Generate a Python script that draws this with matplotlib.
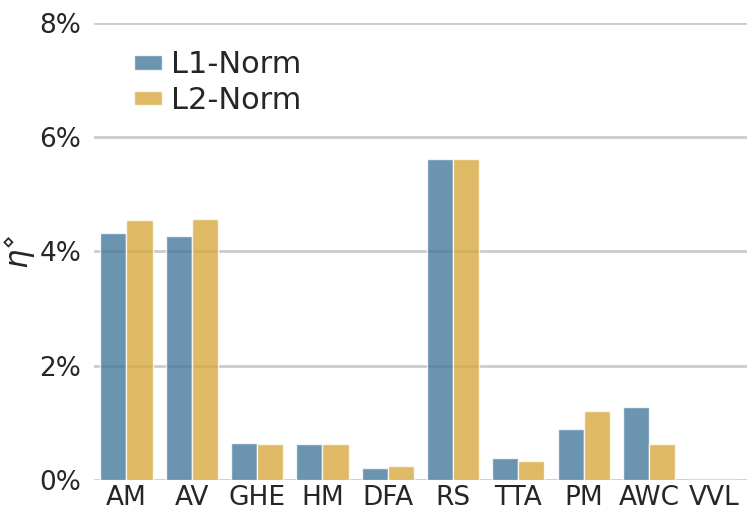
import numpy as np
import matplotlib
matplotlib.use("Agg")
import matplotlib.pyplot as plt
import seaborn as sns
from matplotlib.ticker import FuncFormatter

categories = ["AM", "AV", "GHE", "HM", "DFA", "RS", "TTA", "PM", "AWC", "VVL"]
l1_norm = [4.32, 4.27, 0.64, 0.63, 0.21, 5.61, 0.39, 0.89, 1.27, 0.0]
l2_norm = [4.55, 4.56, 0.62, 0.63, 0.25, 5.61, 0.33, 1.21, 0.62, 0.0]
series_names = ["L1-Norm", "L2-Norm"]
colors = ["#46799C", "#D7A83E"]
y_ticks = [0, 2, 4, 6, 8]

sns.set_theme(style="whitegrid")
plt.rcParams["font.family"] = ["DejaVu Sans"]

fig = plt.figure(figsize=(7.47, 5.11), dpi=100)
ax = fig.add_axes([0.1255, 0.061, 0.8745, 0.894])

x = np.arange(len(categories))
width = 0.4
for i, (vals, name, c) in enumerate(zip([l1_norm, l2_norm], series_names, colors)):
    ax.bar(x + (i - 0.5) * width, vals, width=width, color=c, alpha=0.8,
           edgecolor="white", linewidth=1.0, label=name, zorder=2)

ax.set_xlim(-0.5, len(categories) - 0.5)
ax.set_ylim(0, 8)
ax.set_yticks(y_ticks)
ax.yaxis.set_major_formatter(FuncFormatter(lambda v, p: f"{v:.0f}%"))
ax.set_xticks(x)
ax.set_xticklabels(categories)
ax.tick_params(axis="both", labelsize=19, colors="#262626", length=0)
ax.tick_params(axis="y", pad=9)
ax.tick_params(axis="x", pad=4)
ax.grid(axis="y", color="#cccccc", linewidth=2.0, zorder=0)
ax.grid(axis="x", visible=False)
ax.set_axisbelow(True)
for s in ax.spines.values():
    s.set_visible(False)

ax.set_ylabel(r"$\eta^{\diamond}$", fontsize=22, color="#262626")
ax.yaxis.set_label_coords(-0.086, 0.5)

leg = ax.legend(loc="upper left", bbox_to_anchor=(0.02, 1.0), frameon=False,
                fontsize=22, handlelength=0.9, handleheight=0.35,
                labelspacing=0.22, handletextpad=0.3)
for t in leg.get_texts():
    t.set_color("#262626")

fig.savefig("out.png", dpi=100)
